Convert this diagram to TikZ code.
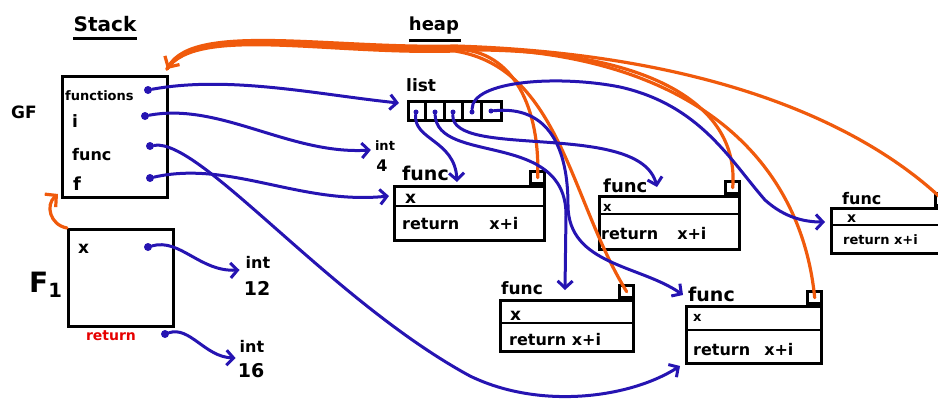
\documentclass[tikz,border=0pt]{standalone}
\usepackage{fontspec}
\setmainfont{DejaVu Sans}
\usetikzlibrary{arrows.meta,calc}
\definecolor{ptrblue}{RGB}{38,20,178}
\definecolor{envorange}{RGB}{240,90,12}
\definecolor{retred}{RGB}{230,0,0}
\newcommand{\fs}[1]{\fontsize{#1}{#1}\selectfont\bfseries}
\begin{document}
\begin{tikzpicture}[x=1pt,y=-1pt,
  box/.style={draw=black, line width=3pt, inner sep=0pt, anchor=north west},
  sqr/.style={draw=black, line width=2.6pt, inner sep=0pt, minimum width=14pt, minimum height=12pt, anchor=south east},
  sep/.style={draw=black, line width=2.8pt},
  uline/.style={draw=black, line width=3pt},
  txt/.style={inner sep=0pt, anchor=base west, font=\fs{#1}},
  txt/.default=14,
  ptr/.style={draw=ptrblue, line width=3pt, line cap=round, -{Straight Barb[length=7pt,width=15pt]}},
  env/.style={draw=envorange, line width=3.2pt, line cap=round, -{Straight Barb[length=8pt,width=17pt]}},
  envp/.style={draw=envorange, line width=3.2pt, line cap=round},
  dot/.style={circle, fill=ptrblue, inner sep=0pt, minimum size=8pt},
  cdot/.style={circle, fill=ptrblue, inner sep=0pt, minimum size=5pt},
]
\path[use as bounding box] (0,0) rectangle (938,400);
\clip (0,0) rectangle (938,400);

% ---------- titles ----------
\node[txt=20, anchor=base] (stack) at (105,31) {Stack};
\draw[uline] ($(stack.base west)+(0,7)$) -- ($(stack.base east)+(0,7)$);
\node[txt=18, anchor=base] (heap) at (434,30) {heap};
\draw[uline] ($(heap.base west)+(0,10)$) -- ($(heap.base east)+(2,10)$);

% ---------- global frame ----------
\node[box, minimum width=105pt, minimum height=121pt] (gf) at (61,75) {};
\node[txt=17] (gflbl) at (11,118) {GF};
\node[txt=13] (lfun) at (65,100) {functions};
\node[txt=17] (li) at (72,127) {i};
\node[txt=16] (lfunc) at (72,160) {func};
\node[txt=18] (lf) at (73,190) {f};
\node[dot] (d1) at (148,90) {};
\node[dot] (d2) at (145,116) {};
\node[dot] (d3) at (150,146) {};
\node[dot] (d4) at (150,178) {};

% ---------- F1 frame ----------
\node[box, minimum width=105pt, minimum height=97pt] (f1) at (67,228) {};
\node[txt=28] (f1lbl) at (29,292) {F\textsubscript{1}};
\node[txt=17] (lx) at (78,253) {x};
\node[dot] (fx) at (148,247) {};
\node[txt=14, anchor=base, text=retred] (ret) at (111,340) {return};
\node[dot] (rd) at (165,334) {};

% ---------- ints ----------
\node[txt=16, anchor=base] (i12) at (258,268) {int};
\node[txt=19, anchor=base] (i12v) at (257,295) {12};
\node[txt=16, anchor=base] (i16) at (252,352) {int};
\node[txt=19, anchor=base] (i16v) at (251,377) {16};
\node[txt=13, anchor=base] (i4) at (385,150) {int};
\node[txt=16, anchor=base] (i4v) at (382,171) {4};

% ---------- list ----------
\node[txt=17] (listlbl) at (406,91) {list};
\node[box, minimum width=93pt, minimum height=19pt] (lst) at (407,100) {};
\foreach \k in {18.6,37.2,55.8,74.4}
  \draw[sep] ($(lst.north west)+(\k,0)$) -- ($(lst.south west)+(\k,0)$);
\node[cdot] (c1) at ($(lst.west)+(9,1)$) {};
\node[cdot] (c2) at ($(lst.west)+(28,1)$) {};
\node[cdot] (c3) at ($(lst.west)+(46,1)$) {};
\node[cdot] (c4) at ($(lst.west)+(65,1)$) {};
\node[cdot] (c5) at ($(lst.west)+(84,0)$) {};

% ---------- function objects ----------
% A
\node[box, minimum width=150pt, minimum height=54pt] (fa) at (393,185) {};
\draw[sep] ($(fa.north west)+(0,21)$) -- ($(fa.north east)+(0,21)$);
\node[sqr] (sqA) at (fa.north east) {};
\node[txt=19] (faf) at (402,180) {func};
\node[txt=17] (fax) at (405,203) {x};
\node[txt=16] (far) at (402,229) {return\hspace{30pt}x+i};
% B
\node[box, minimum width=140pt, minimum height=53pt] (fb) at (598,195) {};
\draw[sep] ($(fb.north west)+(0,19)$) -- ($(fb.north east)+(0,19)$);
\node[sqr] (sqB) at (fb.north east) {};
\node[txt=18] (fbf) at (603,192) {func};
\node[txt=13] (fbx) at (603,211) {x};
\node[txt=16] (fbr) at (601,239) {return\hspace{19pt}x+i};
% C
\node[box, minimum width=133pt, minimum height=51pt] (fc) at (499,299) {};
\draw[sep] ($(fc.north west)+(0,24)$) -- ($(fc.north east)+(0,24)$);
\node[sqr] (sqC) at (fc.north east) {};
\node[txt=17] (fcf) at (501,294) {func};
\node[txt=17] (fcx) at (510,320) {x};
\node[txt=16] (fcr) at (509,345) {return x+i};
% D
\node[box, minimum width=135pt, minimum height=57pt] (fd) at (685,305) {};
\draw[sep] ($(fd.north west)+(0,25)$) -- ($(fd.north east)+(0,25)$);
\node[sqr] (sqD) at (fd.north east) {};
\node[txt=19] (fdf) at (688,301) {func};
\node[txt=13] (fdx) at (693,321) {x};
\node[txt=16] (fdr) at (693,355) {return\hspace{14pt}x+i};
% E
\node[box, minimum width=118pt, minimum height=45pt] (fe) at (830,207) {};
\draw[sep] ($(fe.north west)+(0,18)$) -- ($(fe.north east)+(0,18)$);
\node[sqr] (sqE) at (fe.north east) {};
\node[txt=16] (fef) at (842,204) {func};
\node[txt=14] (fex) at (847,222) {x};
\node[txt=13] (fer) at (843,244) {return x+i};

% ---------- orange environment pointers ----------
\coordinate (gftip) at ($(gf.north east)+(-2,-6)$);
\draw[envp] (sqA.center) .. controls (540,110) and (515,50) .. (455,49)
  .. controls (330,52) and (195,22) .. (gftip);
\draw[envp] (sqB.center) .. controls (740,100) and (640,47) .. (455,50)
  .. controls (330,54) and (195,24) .. (gftip);
\draw[envp] (sqC.center) .. controls (570,200) and (560,68) .. (455,51)
  .. controls (330,55) and (196,25) .. (gftip);
\draw[envp] (sqD.center) .. controls (800,150) and (680,48) .. (455,48)
  .. controls (330,50) and (194,21) .. (gftip);
\draw[env] (sqE.center) .. controls (880,140) and (740,55) .. (455,46)
  .. controls (330,49) and (195,22) .. (gftip);
\draw[env] (f1.north west) .. controls (50,225) and (45,205) .. ($(gf.south west)+(-3,-5)$);

% ---------- blue pointers ----------
\draw[ptr] (d1) .. controls (230,75) and (320,95) .. ($(lst.west)+(-8,-8)$);
\draw[ptr] (d2) .. controls (220,102) and (290,155) .. ($(i4.base west)+(-4,0)$);
\draw[ptr] (d4) .. controls (230,160) and (300,205) .. ($(fa.north west)+(-4,11)$);
\draw[ptr] (d3) .. controls (200,138) and (330,300) .. (470,376)
  .. controls (540,410) and (630,398) .. ($(fd.south west)+(-5,1)$);
\draw[ptr] (fx) .. controls (180,238) and (200,272) .. ($(i12.base west)+(-6,2)$);
\draw[ptr] (rd) .. controls (190,326) and (205,357) .. ($(i16.base west)+(-4,6)$);

\draw[ptr] (c1) .. controls (413,140) and (455,140) .. ($(fa.north west)+(64,-3)$);
\draw[ptr] (c2) .. controls (437,165) and (566,130) .. (566,215) -- ($(fc.north west)+(66,-9)$);
\draw[ptr] (c3) .. controls (450,160) and (640,120) .. ($(fb.north west)+(59,-8)$);
\draw[ptr] (c4) .. controls (472,80) and (560,75) .. (620,87)
  .. controls (700,105) and (730,160) .. (765,200)
  .. controls (785,218) and (805,222) .. ($(fe.north west)+(-5,15)$);
\draw[ptr] (c5) .. controls (550,105) and (568,150) .. (568,205)
  .. controls (568,265) and (640,265) .. ($(fd.north west)+(-2,-10)$);
\end{tikzpicture}
\end{document}
